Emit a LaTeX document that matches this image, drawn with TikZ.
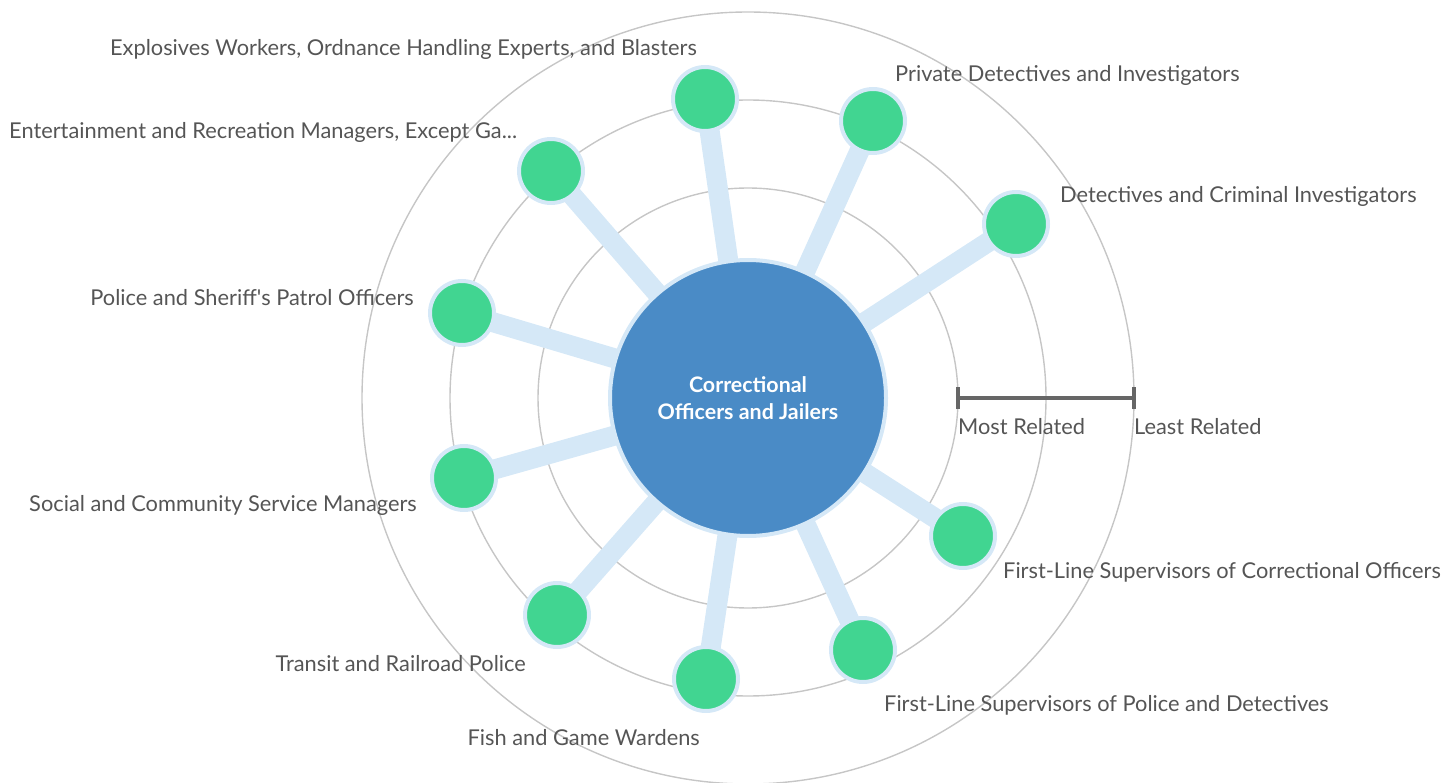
\documentclass[tikz,border=0pt]{standalone}
\usepackage{fontspec}
\setmainfont{Lato}
\usetikzlibrary{backgrounds}
\definecolor{ringgray}{HTML}{C6C6C6}
\definecolor{spokeblue}{HTML}{D5E8F7}
\definecolor{hubblue}{HTML}{4A8BC6}
\definecolor{jobgreen}{HTML}{41D591}
\definecolor{labelgray}{HTML}{555555}
\definecolor{bargray}{HTML}{666666}
\tikzset{
	ring/.style={draw=ringgray, line width=1.4pt},
	spoke/.style={draw=spokeblue, line width=20pt},
	job/.style={circle, fill=jobgreen, draw=spokeblue, line width=4pt, minimum size=64pt, inner sep=0pt},
	lbl/.style={text=labelgray, inner sep=0pt, font=\fontsize{21.8}{26}\selectfont}
}

\begin{document}
\begin{tikzpicture}[x=1pt,y=-1pt]
	\useasboundingbox (0,0) rectangle (1445,783);
	% hub
	\node[circle, fill=hubblue, draw=spokeblue, line width=4pt, minimum size=276pt, inner sep=0pt,
		text=white, align=center, font=\fontsize{21.4}{27}\selectfont\bfseries] (hub) at (748,398)
		{Correctional\\Officers and Jailers};
	% upper
	\node[job] (expl) at (705,99) {};
	\node[job] (priv) at (873,121) {};
	\node[job] (dete) at (1016,224) {};
	\node[job] (ente) at (551,171) {};
	\node[job] (poli) at (462,313) {};
	% lower
	\node[job] (soci) at (464,478) {};
	\node[job] (tran) at (557,615) {};
	\node[job] (fish) at (706,679) {};
	\node[job] (flpd) at (863,650) {};
	\node[job] (flco) at (963,536) {};
	% labels
	\node[lbl, anchor=east] (expl-l) at (697,49) {Explosives Workers, Ordnance Handling Experts, and Blasters};
	\node[lbl, anchor=west] (priv-l) at (895,75) {Private Detectives and Investigators};
	\node[lbl, anchor=west] (dete-l) at (1060,196) {Detectives and Criminal Investigators};
	\node[lbl, anchor=west] (ente-l) at (9,132) {Entertainment and Recreation Managers, Except Ga...};
	\node[lbl, anchor=east] (poli-l) at (414,298) {Police and Sheriff\textquotesingle s Patrol Officers};
	\node[lbl, anchor=east] (soci-l) at (417,505) {Social and Community Service Managers};
	\node[lbl, anchor=east] (tran-l) at (526,664) {Transit and Railroad Police};
	\node[lbl, anchor=east] (fish-l) at (700,738) {Fish and Game Wardens};
	\node[lbl, anchor=west] (flpd-l) at (884,705) {First-Line Supervisors of Police and Detectives};
	\node[lbl, anchor=west] (flco-l) at (1003,572) {First-Line Supervisors of Correctional Officers};
	% scale
	\coordinate (most) at (958,398);
	\coordinate (least) at (1134,398);
	\draw[bargray, line width=4pt] (most) -- (least);
	\draw[bargray, line width=4pt] ([yshift=-11pt]most) -- ([yshift=11pt]most);
	\draw[bargray, line width=4pt] ([yshift=-11pt]least) -- ([yshift=11pt]least);
	\node[lbl, anchor=west] (most-l) at (958,427) {Most Related};
	\node[lbl, anchor=west] (least-l) at (1134,427) {Least Related};
	% rings and spokes
	\begin{scope}[on background layer]
		\draw[ring] (hub.center) circle (210pt);
		\draw[ring] (hub.center) circle (298pt);
		\draw[ring] (hub.center) circle (386pt);
		\foreach \j in {expl,priv,dete,ente,poli,soci,tran,fish,flpd,flco}
			\draw[spoke] (hub.center) -- (\j.center);
	\end{scope}
\end{tikzpicture}
\end{document}
